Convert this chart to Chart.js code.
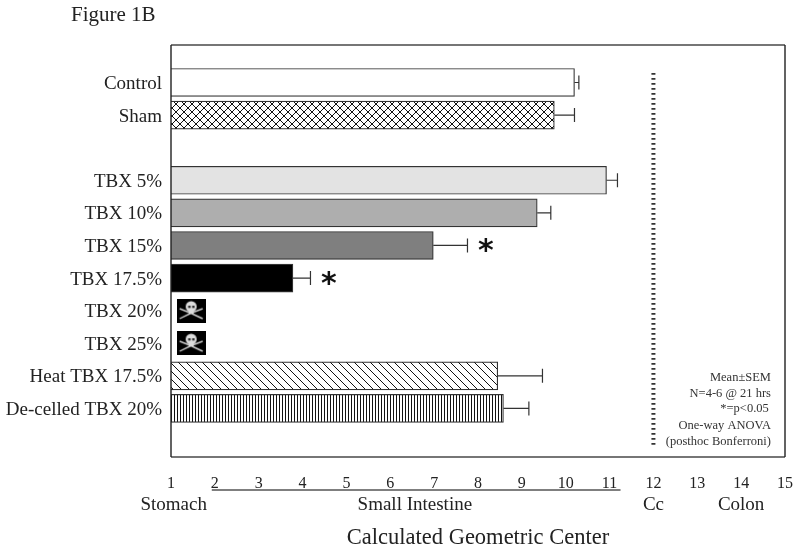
<!DOCTYPE html>
<html><head><meta charset="utf-8">
<script src="https://cdn.jsdelivr.net/npm/chart.js@4"></script>
<style>html,body{margin:0;padding:0;background:#fff}#w{width:800px;height:554px;position:relative}</style>
</head><body><div id="w"><canvas id="c" width="800" height="554"></canvas></div>
<script>
const figureTitle = 'Figure 1B';
const axisTitle = 'Calculated Geometric Center';
const categories = ['Control','Sham','','TBX 5%','TBX 10%','TBX 15%','TBX 17.5%','TBX 20%','TBX 25%','Heat TBX 17.5%','De-celled TBX 20%'];
const means = [10.2,9.74,null,10.93,9.35,6.98,3.78,null,null,8.45,8.58];
const errorTops = [10.3,10.2,null,11.18,9.66,7.76,4.18,null,null,9.47,9.16];
const starRows = [5,6];
const starX = [8.18,4.6];
const skullRows = [7,8];
const skullX = [1.46,1.46];
const dividerX = [12,12];
const dividerRows = [-0.29,11.12];
const regions = ['Stomach','Small Intestine','Cc','Colon'];
const regionX = [1.06,6.56,12,14];
const intestineSpan = [1.93,11.25];
const notes = ['Mean\u00B1SEM','N=4-6 @ 21 hrs','*=p<0.05','One-way ANOVA','(posthoc Bonferroni)'];
const noteRows = [9.05,9.54,10.01,10.53,11.02];
const noteEnds = [14.68,14.68,14.63,14.68,14.68];

const SERIF = '"Liberation Serif", serif';
function tile(w,h,fn){const c=document.createElement('canvas');c.width=w;c.height=h;const x=c.getContext('2d');x.fillStyle='#fff';x.fillRect(0,0,w,h);x.strokeStyle='#111';fn(x);return x.createPattern(c,'repeat');}
function diag(x,s,down){x.beginPath();for(let i=-s;i<=s;i+=s){if(down){x.moveTo(i,0);x.lineTo(i+s,s);}else{x.moveTo(i+s,0);x.lineTo(i,s);}}x.stroke();}
const cross = tile(8,8,x=>{x.lineWidth=1;diag(x,8,true);diag(x,8,false);});
const slant = tile(8,8,x=>{x.lineWidth=1;diag(x,8,true);});
const vert = tile(3,3,x=>{x.lineWidth=1;x.beginPath();x.moveTo(.5,0);x.lineTo(.5,3);x.stroke();});
const fills = ['#fff',cross,'#fff','#e3e3e3','#aeaeae','#7f7f7f','#000','#fff','#fff',slant,vert];

function skull(){
  const c=document.createElement('canvas');c.width=29;c.height=24;const x=c.getContext('2d');
  x.fillStyle='#000';x.fillRect(0,0,29,24);
  x.strokeStyle='#ccc';x.lineWidth=1.4;
  x.beginPath();x.moveTo(3,10);x.quadraticCurveTo(14,14,26,20);x.moveTo(26,10);x.quadraticCurveTo(14,14,3,20);x.stroke();
  x.fillStyle='#ddd';x.beginPath();x.arc(14.5,8,5.5,0,Math.PI*2);x.fill();x.fillRect(12,12,5,3);
  x.fillStyle='#222';x.fillRect(11.5,7,2.3,2.3);x.fillRect(15.5,7,2.3,2.3);
  return c;
}
const skullImg = skull();

const overlay = {
  id:'overlay',
  afterDatasetsDraw(chart){
    const {ctx,chartArea:a,scales:{x,y}} = chart;
    ctx.save();
    // frame
    ctx.lineWidth=1.4;ctx.strokeStyle='#4a4a4a';
    ctx.beginPath();ctx.moveTo(a.left,a.top);ctx.lineTo(a.right,a.top);ctx.moveTo(a.left,a.bottom);ctx.lineTo(a.right,a.bottom);ctx.stroke();
    ctx.strokeStyle='#222';
    ctx.beginPath();ctx.moveTo(a.left,a.top);ctx.lineTo(a.left,a.bottom);ctx.moveTo(a.right,a.top);ctx.lineTo(a.right,a.bottom);ctx.stroke();
    // error bars
    ctx.strokeStyle='#333';ctx.lineWidth=1.2;
    means.forEach((m,i)=>{ if(m==null) return;
      const py=y.getPixelForValue(i),x0=x.getPixelForValue(m),x1=x.getPixelForValue(errorTops[i]);
      ctx.beginPath();ctx.moveTo(x0,py);ctx.lineTo(x1,py);ctx.moveTo(x1,py-7);ctx.lineTo(x1,py+7);ctx.stroke();
    });
    // stars
    ctx.fillStyle='#111';ctx.textAlign='center';ctx.textBaseline='middle';
    ctx.font='bold 30px "DejaVu Sans", sans-serif';
    starRows.forEach((r,i)=>ctx.fillText('*',x.getPixelForValue(starX[i]),y.getPixelForValue(r)+7));
    // notes
    ctx.fillStyle='#333';ctx.textAlign='right';ctx.font='12.5px '+SERIF;
    notes.forEach((t,i)=>ctx.fillText(t,x.getPixelForValue(noteEnds[i]),y.getPixelForValue(noteRows[i])));
    // regions
    ctx.fillStyle='#222';ctx.textAlign='center';ctx.font='19px '+SERIF;
    regions.forEach((t,i)=>ctx.fillText(t,x.getPixelForValue(regionX[i]),505));
    ctx.strokeStyle='#555';ctx.lineWidth=1.4;
    ctx.beginPath();ctx.moveTo(x.getPixelForValue(intestineSpan[0]),490);ctx.lineTo(x.getPixelForValue(intestineSpan[1]),490);ctx.stroke();
    // figure title
    ctx.fillStyle='#222';ctx.textAlign='left';ctx.font='21px '+SERIF;
    ctx.fillText(figureTitle,71,15);
    ctx.restore();
  }
};

new Chart(document.getElementById('c'),{
  type:'bar',
  data:{datasets:[
    {label:'Mean',
     data:means.map((m,i)=>m==null?null:{x:m,y:i}).filter(Boolean),
     backgroundColor:means.map((m,i)=>fills[i]).filter((f,i)=>means[i]!=null),
     borderColor:'#333',borderWidth:1.2,barThickness:28},
    {type:'scatter',label:'Deaths',
     data:skullRows.map((r,i)=>({x:skullX[i],y:r})),
     pointStyle:skullImg,pointRadius:12,showLine:false},
    {type:'scatter',label:'Cc boundary',
     data:dividerRows.map((r,i)=>({x:dividerX[i],y:r})),
     showLine:true,pointRadius:0,borderColor:'#333',borderWidth:4,borderDash:[1.6,3.4]}
  ]},
  options:{
    indexAxis:'y',responsive:false,animation:false,
    layout:{padding:{left:0,right:15,top:45,bottom:0}},
    plugins:{legend:{display:false},tooltip:{enabled:false},title:{display:false}},
    scales:{
      x:{type:'linear',position:'bottom',min:1,max:15,
        grid:{display:false,drawTicks:true,tickLength:14,tickColor:'rgba(0,0,0,0)'},border:{display:false},
        ticks:{stepSize:1,padding:3,color:'#222',maxRotation:0,font:{family:SERIF,size:16}},
        title:{display:true,text:axisTitle,color:'#222',font:{family:SERIF,size:22.5},padding:{top:0,bottom:2}},
        afterFit(s){s.height=97;}},
      y:{type:'linear',position:'left',reverse:true,min:-1.15,max:11.49,offset:false,
        grid:{display:false,drawTicks:false,offset:false},border:{display:false},
        afterBuildTicks(s){s.ticks=categories.map((_,i)=>({value:i}));},
        ticks:{padding:9,labelOffset:1.5,autoSkip:false,color:'#222',font:{family:SERIF,size:19},callback:v=>categories[v]},
        afterFit(s){s.width=171;}}
    }
  },
  plugins:[overlay]
});
</script></body></html>
